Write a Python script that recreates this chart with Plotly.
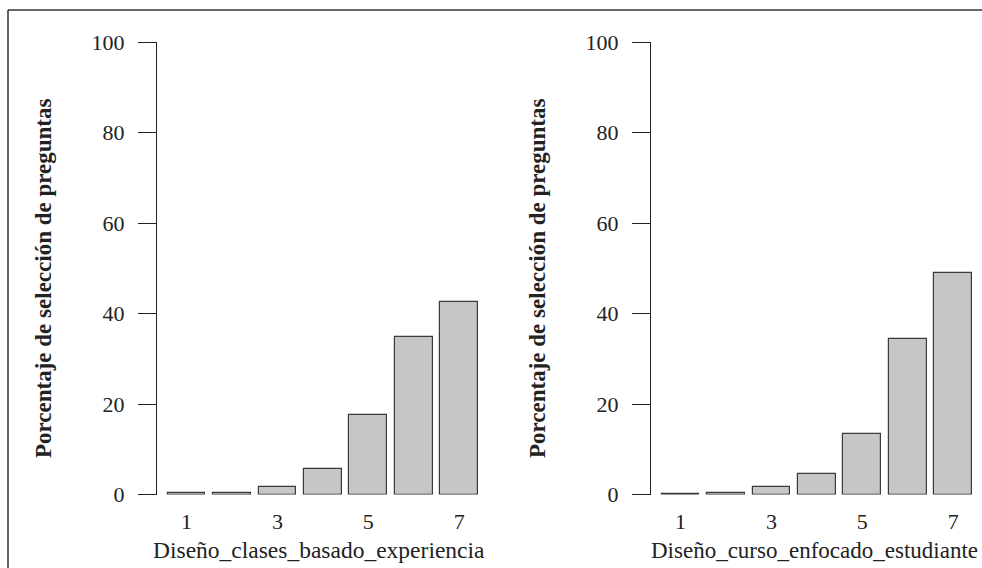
import plotly.graph_objects as go

categories = [1, 2, 3, 4, 5, 6, 7]
tick_labels = ["1", "3", "5", "7"]
tick_positions = [1, 3, 5, 7]
values_clases = [0.3, 0.3, 1.6, 5.7, 17.6, 34.8, 42.6]
values_curso = [0.1, 0.3, 1.7, 4.5, 13.3, 34.3, 48.9]
xtitle_left = "Diseño_clases_basado_experiencia"
xtitle_right = "Diseño_curso_enfocado_estudiante"
ytitle = "Porcentaje de selección de preguntas"

W, H = 982, 568
FONT = "Liberation Serif"
fill = "#c6c6c6"
edge = "#3a3a3a"

fig = go.Figure()
for vals, xa, ya in [(values_clases, "x", "y"), (values_curso, "x2", "y2")]:
    fig.add_trace(go.Bar(x=categories, y=vals, width=0.833, xaxis=xa, yaxis=ya,
                         marker=dict(color=fill, line=dict(color=edge, width=1.2)),
                         showlegend=False))

y0 = (H - 494.5) / H
y1 = (H - 42) / H
def xdom(px0, px1):
    return [px0 / W, px1 / W]

ax_common = dict(range=[0.35, 7.5], tickvals=tick_positions, ticktext=tick_labels,
                 showline=False, showgrid=False, zeroline=False, ticks="",
                 ticklabelstandoff=11, automargin=False,
                 tickfont=dict(family=FONT, size=22, color="#222"))
ay_common = dict(range=[0, 100], tickvals=[0, 20, 40, 60, 80, 100],
                 showline=True, linecolor="#222", linewidth=1.2,
                 ticks="outside", ticklen=18, tickwidth=1.2, tickcolor="#222",
                 showgrid=False, zeroline=False, ticklabelstandoff=9, automargin=False,
                 tickfont=dict(family=FONT, size=22, color="#222"),
                 domain=[y0, y1])

fig.update_layout(
    width=W, height=H, margin=dict(l=0, r=0, t=0, b=0, pad=0, autoexpand=False),
    plot_bgcolor="white", paper_bgcolor="white", bargap=0,
    xaxis=dict(domain=xdom(157, 482), anchor="y", **ax_common),
    yaxis=dict(anchor="x", **ay_common),
    xaxis2=dict(domain=xdom(651, 976), anchor="y2", **ax_common),
    yaxis2=dict(anchor="x2", **ay_common),
)

ann = []
for xc, txt, fs in [(319, xtitle_left, 23.5), (814, xtitle_right, 23)]:
    ann.append(dict(x=xc / W, y=(H - 550) / H, xref="paper", yref="paper",
                    text=txt, showarrow=False, xanchor="center", yanchor="middle",
                    font=dict(family=FONT, size=fs, color="#222")))
for xc in [43, 537]:
    ann.append(dict(x=xc / W, y=(H - 279) / H, xref="paper", yref="paper",
                    text="<b>" + ytitle + "</b>", textangle=-90, showarrow=False,
                    xanchor="center", yanchor="middle",
                    font=dict(family=FONT, size=23, color="#222")))
fig.update_layout(annotations=ann)

fig.add_shape(type="line", xref="paper", yref="paper", x0=8 / W, x1=1, y0=(H - 10) / H, y1=(H - 10) / H,
              line=dict(color="#333", width=1.5))
fig.add_shape(type="line", xref="paper", yref="paper", x0=8 / W, x1=8 / W, y0=0, y1=(H - 10) / H,
              line=dict(color="#333", width=1.5))

fig.write_html("out.html")
